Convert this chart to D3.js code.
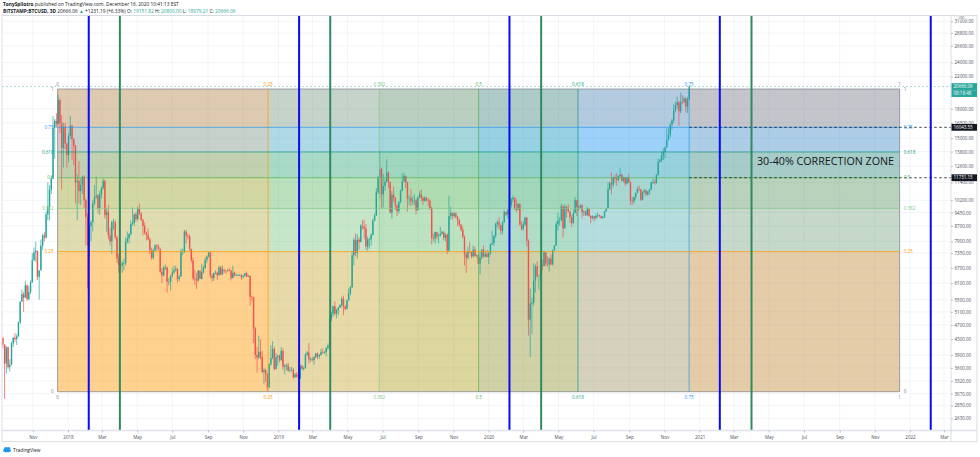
<!DOCTYPE html>
<html>
<head>
<meta charset="utf-8">
<script src="https://cdnjs.cloudflare.com/ajax/libs/d3/7.8.5/d3.min.js"></script>
<style>
html, body { margin: 0; padding: 0; background: #fff; }
svg { display: block; font-family: "Open Sans", "Noto Sans", sans-serif; }
</style>
</head>
<body>
<div id="chart"></div>
<script>
// BITSTAMP:BTCUSD 3D candles, first bar opens 2017-09-10, open of each bar = previous close
const firstCandle = "2017-09-10";
const candleDays = 3;
const firstOpen = 4330;

const closes = [
 4160,3700,4090,3620,3670,4200,4340,4310,4380,4780,
 5430,5690,5570,6010,5520,5770,6130,7030,7390,7450,
 6340,6600,7700,8200,8090,9330,9810,10890,11670,16000,
 16700,16400,19000,16500,14100,16100,14500,13500,15200,16200,
 14900,14300,11400,11500,10800,11200,11800,10200,9200,7700,
 8700,8900,10000,10400,10500,9700,10600,11000,11500,9300,
 9500,8200,7900,8900,8900,8100,7100,6800,6800,6900,
 6900,7900,8050,8270,8800,8860,9350,9070,9700,9370,
 9020,8690,8340,8240,8000,7470,7130,7490,7710,7650,
 7530,6550,6400,6710,6720,6150,6150,6390,6510,6600,
 6660,6250,6350,7380,7400,8400,8180,8170,7530,7030,
 6280,6240,6190,6580,6260,6520,6700,7040,7190,7370,
 6400,6290,6490,6500,6400,6720,6430,6640,6590,6570,
 6600,6590,6290,6500,6390,6410,6410,6410,6320,6370,
 6480,6350,6370,5600,5580,4600,3900,3840,3980,3850,
 3510,3550,3470,3190,3680,3830,4050,3580,3850,3880,
 3780,4000,3630,3660,3660,3540,3550,3560,3400,3460,
 3410,3370,3650,3580,3600,3910,3960,3800,3800,3780,
 3850,3940,3870,3900,3970,3960,3970,4070,4130,4880,
 5040,5280,5040,5160,5240,5320,5530,5270,5200,5480,
 5720,5940,7250,7980,7350,7980,7880,8700,8650,8560,
 7650,8000,8000,8230,8980,9270,10700,11750,12400,10580,
 11150,11450,12100,11400,9450,10550,10350,9880,9530,10090,
 10820,11460,11860,11400,10310,10330,10130,10140,10190,9590,
 10390,10580,10340,10160,10360,10190,10170,9700,8060,8040,
 8370,8150,8190,8270,8360,8080,8240,7460,9250,9430,
 9250,9400,9200,9040,8770,8490,8120,7290,7140,7420,
 7400,7200,7500,7220,7250,6880,7150,7510,7200,7300,
 7170,7340,7760,7820,8180,8820,8900,8730,8430,8900,
 9500,9330,9610,9900,10270,10360,9700,9610,9970,8780,
 8540,8760,9150,7930,4860,5370,5400,6190,6770,6370,
 6390,6800,6780,7370,6890,6850,7100,6850,7490,7700,
 8790,8980,9030,9810,8570,9790,9680,9510,9180,8840,
 9430,10200,9790,9750,9880,9470,9520,9300,9690,9250,
 9120,9230,9130,9250,9290,9240,9130,9210,9530,9710,
 10920,11350,11230,11770,11680,11570,11860,11970,11520,11760,
 11320,11700,11400,10170,10130,10400,10680,10940,10920,10240,
 10730,10840,10570,10790,10920,11380,11430,11360,11920,12930,
 13070,13460,13750,14150,14840,15310,16330,16730,17820,18420,
 18740,17720,18790,18700,19180,18250,19150,20666.06
];

const highs = [
 4380,4170,4120,4110,3800,4240,4370,4470,4440,4800,
 5450,5860,5780,6190,6050,5990,6200,7340,7600,7880,
 7450,6600,7990,8290,8370,9520,11400,11200,11850,17200,
 16900,17500,19666,19200,17300,16500,16500,14600,15500,17250,
 16300,15000,14400,12000,13000,11700,11900,11900,10300,9400,
 8750,9000,10200,11200,11800,10600,10800,11100,11700,11600,
 9700,9900,8600,9000,9100,9000,8200,7300,7500,7000,
 7100,8100,8400,8300,9000,9750,9400,9500,9800,9990,
 9470,9100,8880,8400,8580,8100,7600,7550,7760,7750,
 7750,7600,6700,6800,6840,6750,6300,6400,6690,6800,
 6800,6680,6400,7550,7550,8480,8500,8300,8250,7550,
 7150,6620,6500,6620,6600,6880,6800,7150,7250,7400,
 7420,6470,6520,6600,6550,6800,6780,6800,6650,6610,
 6650,6700,6620,6800,6550,6460,6460,6450,6440,6420,
 6500,6550,6420,6400,5640,5600,4650,4100,4400,4300,
 4000,3600,3580,3490,3700,4150,4250,4100,3950,3900,
 3920,4100,4060,3680,3700,3720,3620,3620,3600,3490,
 3510,3460,3680,3660,3630,3950,4000,4200,3840,3850,
 3880,3950,3960,3920,4050,4060,4000,4090,4190,5000,
 5100,5300,5450,5200,5260,5350,5600,5640,5320,5500,
 5900,5980,7450,8100,8300,8250,8100,8800,9000,9050,
 8800,8150,8060,8300,9100,9400,11000,11850,13880,12500,
 12000,11650,13150,12200,11450,10800,11100,10400,9900,10150,
 10900,12050,12100,11900,11450,10500,10950,10450,10600,10300,
 10450,10800,10900,10450,10450,10400,10350,10250,9800,8300,
 8400,8380,8300,8650,8450,8420,8300,8300,10500,9800,
 9450,9500,9450,9250,9050,8800,8650,8200,7400,7650,
 7850,7420,7700,7650,7300,7280,7400,7520,7700,7420,
 7500,7400,7800,8450,8200,8880,9000,9180,8770,8980,
 9570,9480,9640,9950,10350,10500,10380,10250,10020,10000,
 8950,8950,9200,9200,8000,5900,5580,6900,6850,6980,
 6400,7100,7050,7460,7400,7200,7150,7300,7500,7720,
 8950,9450,9200,10000,9900,9950,9850,9950,9560,9310,
 9620,10400,10230,9850,9950,9950,9600,9550,9780,9700,
 9300,9300,9250,9380,9450,9330,9280,9230,9550,9720,
 11400,11450,12100,11800,11950,12100,11900,12480,12000,11800,
 11770,11800,12050,11450,10400,10450,10700,11100,11180,10950,
 10800,10950,10900,10800,10950,11450,11700,11620,12000,13200,
 13200,13800,14100,14250,15950,15950,16500,16900,18500,18800,
 19400,18900,19900,19600,19420,19300,19400,20800
];

const lows = [
 4070,2970,3480,3580,3520,3660,4100,4240,4150,4370,
 4730,5450,5100,5560,5450,5480,5700,6100,6990,6960,
 6220,5500,6600,7500,7900,8040,9000,9000,10600,11650,
 13200,16000,16300,15500,10900,12500,14000,12500,12900,14900,
 13100,12700,10000,9000,10000,9900,10600,9700,7700,5900,
 7200,7900,8400,9900,10300,9400,9300,10300,10900,9100,
 8400,8000,7700,7300,8500,8000,6900,6500,6700,6500,
 6600,6800,7800,7800,8200,8700,8700,8900,9000,9300,
 8950,8200,8250,7950,7950,7300,7050,7070,7400,7450,
 7500,6500,6100,6350,6620,5750,6000,5830,6300,6450,
 6550,6120,6170,6340,7250,7350,7800,8000,7450,6930,
 6200,6020,5880,6150,6250,6240,6460,6650,6900,7140,
 6300,6150,6180,6440,6220,6380,6400,6420,6500,6460,
 6550,6560,6200,6280,6350,6370,6370,6380,6220,6300,
 6350,6330,6330,5300,5450,4200,3800,3500,3800,3800,
 3480,3250,3300,3122,3180,3650,3800,3550,3560,3650,
 3730,3760,3560,3460,3540,3520,3500,3530,3360,3380,
 3390,3350,3360,3560,3540,3580,3880,3700,3740,3750,
 3680,3830,3800,3810,3890,3930,3930,3870,4030,4080,
 4800,4950,4980,4900,5000,5230,5240,5000,5150,5180,
 5450,5650,5920,6800,7200,7100,7500,7850,8500,8000,
 7500,7450,7550,7700,8200,8950,9250,10600,10300,9700,
 9750,10800,11400,11000,9400,9100,10100,9600,9250,9400,
 10000,10800,11400,11000,9500,9900,9850,9900,9900,9350,
 9550,10350,10150,9900,10100,10150,9850,9600,7750,7900,
 7800,8000,7800,8150,8250,7950,7900,7300,7400,9050,
 9050,9150,9100,8700,8650,8400,8050,6800,6500,7050,
 7350,7100,7150,7180,7130,6850,6430,7070,7150,7150,
 7150,6860,7270,7730,7680,8070,8600,8500,8250,8250,
 8880,9250,9120,9550,9740,10100,9600,9470,9580,8700,
 8450,8450,8700,7650,4400,3850,4450,5300,5750,6300,
 5850,6200,6600,6770,6770,6750,6550,6800,6800,7450,
 7700,8450,8700,8950,8100,8550,9150,9450,8850,8650,
 8850,9400,9250,9550,9650,9100,9250,9250,9250,9200,
 8850,9050,8950,9050,9150,9170,9100,9100,9130,9500,
 9700,10850,10600,11050,11350,11150,11450,11700,11450,11400,
 11150,11250,11350,9900,9900,10000,10220,10650,10800,10150,
 10200,10650,10450,10500,10550,10850,11300,11250,11300,11900,
 12900,12950,13100,13250,14200,14800,15100,15800,16500,17600,
 18000,16200,17500,18500,18900,17600,17550,18979.21
];

// right price scale labels
const priceTicks = [31000,28800,26600,24000,22000,18000,16500,15000,13800,12600,11400,10200,
  9450,8700,7900,7350,6700,6100,5500,5100,4700,4300,3900,3600,3320,3070,2850,2630];

// Gann box drawing
const gannLevels = [0, 0.25, 0.382, 0.5, 0.618, 0.75, 1];
const gannLabels = ["0", "0.25", "0.382", "0.5", "0.618", "0.75", "1"];
const gannColors = ["#787b86", "#ff9800", "#81c784", "#4caf50", "#089981", "#2196f3", "#787b86"];
const gannStart = "2017-12-14";
const gannEnd = "2021-12-14";
const gannLow = 3105.95;
const gannHigh = 20355.95;

// yearly vertical lines
const blueLineDates = ["2018-02-06", "2019-02-06", "2020-02-06", "2021-02-05", "2022-02-06"];
const greenLineDates = ["2018-04-01", "2019-04-01", "2020-04-01", "2021-04-01"];

// horizontal rays with price labels
const rayStart = "2020-12-14";
const rayPrices = [16043.55, 11731.15];
const lastPrice = 20666.06;
const countdown = "08:18:48";

const W = 980, H = 457;
const plot = {left: 2, right: 951, top: 15.5, bottom: 430.5};
const upColor = "#26a69a", downColor = "#ef5350";

const svg = d3.select("#chart").append("svg").attr("width", W).attr("height", H);

svg.append("defs").append("clipPath").attr("id", "plotClip")
  .append("rect")
  .attr("x", plot.left).attr("y", plot.top)
  .attr("width", plot.right - plot.left).attr("height", plot.bottom - plot.top);

const x = d3.scaleUtc().domain([new Date("2018-01-01"), new Date("2022-01-01")]).range([68, 910]);
const y = d3.scaleLog().domain([gannLow, gannHigh]).range([391.7, 89]);

const timeTicks = d3.utcMonth.every(2).range(new Date("2017-11-01"), new Date("2022-03-02"));

// grid
const grid = svg.append("g").attr("clip-path", "url(#plotClip)");
grid.selectAll(".vgrid").data(timeTicks).join("line")
  .attr("x1", d => x(d)).attr("x2", d => x(d))
  .attr("y1", plot.top).attr("y2", plot.bottom)
  .attr("stroke", "#eef1f7").attr("stroke-width", 0.8);
grid.selectAll(".hgrid").data(priceTicks).join("line")
  .attr("x1", plot.left).attr("x2", plot.right)
  .attr("y1", d => y(d)).attr("y2", d => y(d))
  .attr("stroke", "#eef1f7").attr("stroke-width", 0.8);

// Gann box fills
const gx0 = x(new Date(gannStart)), gx1 = x(new Date(gannEnd));
const gX = l => gx0 + l * (gx1 - gx0);
const gY = l => y(gannLow + l * (gannHigh - gannLow));
const gannBands = gannLevels.slice(1).map((l, i) => ({from: gannLevels[i], to: l, color: gannColors[i + 1]}));

const box = svg.append("g").attr("clip-path", "url(#plotClip)");
box.selectAll(".col").data(gannBands).join("rect")
  .attr("x", d => gX(d.from)).attr("width", d => gX(d.to) - gX(d.from))
  .attr("y", gY(1)).attr("height", gY(0) - gY(1))
  .attr("fill", d => d.color).attr("fill-opacity", 0.25);
box.selectAll(".row").data(gannBands).join("rect")
  .attr("x", gX(0)).attr("width", gX(1) - gX(0))
  .attr("y", d => gY(d.to)).attr("height", d => gY(d.from) - gY(d.to))
  .attr("fill", d => d.color).attr("fill-opacity", 0.25);

// candles
const candles = closes.map((c, i) => ({
  date: d3.utcDay.offset(new Date(firstCandle), i * candleDays),
  open: i === 0 ? firstOpen : closes[i - 1],
  high: highs[i], low: lows[i], close: c
}));

const candleG = svg.append("g").attr("clip-path", "url(#plotClip)");
const bar = candleG.selectAll(".candle").data(candles).join("g").attr("class", "candle");
bar.append("line")
  .attr("x1", d => x(d.date)).attr("x2", d => x(d.date))
  .attr("y1", d => y(d.high)).attr("y2", d => y(d.low))
  .attr("stroke", d => d.close >= d.open ? upColor : downColor)
  .attr("stroke-width", 0.7);
bar.append("rect")
  .attr("x", d => x(d.date) - 0.7).attr("width", 1.4)
  .attr("y", d => y(Math.max(d.open, d.close)))
  .attr("height", d => Math.max(0.6, Math.abs(y(d.open) - y(d.close))))
  .attr("fill", d => d.close >= d.open ? upColor : downColor);

// Gann level lines + box border
const lines = svg.append("g").attr("clip-path", "url(#plotClip)");
lines.selectAll(".vlev").data(gannLevels).join("line")
  .attr("x1", d => gX(d)).attr("x2", d => gX(d))
  .attr("y1", gY(1)).attr("y2", gY(0))
  .attr("stroke", (d, i) => gannColors[i]).attr("stroke-width", 0.8).attr("stroke-opacity", 0.85);
lines.selectAll(".hlev").data(gannLevels).join("line")
  .attr("x1", gX(0)).attr("x2", gX(1))
  .attr("y1", d => gY(d)).attr("y2", d => gY(d))
  .attr("stroke", (d, i) => gannColors[i]).attr("stroke-width", 0.8).attr("stroke-opacity", 0.85);

// last price line
lines.append("line")
  .attr("x1", plot.left).attr("x2", plot.right)
  .attr("y1", y(lastPrice)).attr("y2", y(lastPrice))
  .attr("stroke", upColor).attr("stroke-opacity", 0.5)
  .attr("stroke-width", 0.8).attr("stroke-dasharray", "2,2");

// horizontal rays
lines.selectAll(".ray").data(rayPrices).join("line")
  .attr("x1", x(new Date(rayStart))).attr("x2", plot.right)
  .attr("y1", d => y(d)).attr("y2", d => y(d))
  .attr("stroke", "#131722").attr("stroke-width", 0.8).attr("stroke-dasharray", "2.5,2.5");

// yearly vertical lines
lines.selectAll(".blue").data(blueLineDates).join("line")
  .attr("x1", d => x(new Date(d))).attr("x2", d => x(new Date(d)))
  .attr("y1", plot.top).attr("y2", plot.bottom)
  .attr("stroke", "#0a0af5").attr("stroke-width", 2);
lines.selectAll(".green").data(greenLineDates).join("line")
  .attr("x1", d => x(new Date(d))).attr("x2", d => x(new Date(d)))
  .attr("y1", plot.top).attr("y2", plot.bottom)
  .attr("stroke", "#2f8a5f").attr("stroke-width", 2);

// Gann labels
const lab = svg.append("g").attr("font-size", 4.6);
gannLevels.forEach((l, i) => {
  lab.append("text").attr("x", gX(l)).attr("y", gY(1) - 3)
    .attr("text-anchor", "middle").attr("fill", gannColors[i]).text(gannLabels[i]);
  lab.append("text").attr("x", gX(l)).attr("y", gY(0) + 7)
    .attr("text-anchor", "middle").attr("fill", gannColors[i]).text(gannLabels[i]);
  lab.append("text").attr("x", gX(0) - 4).attr("y", gY(l) + 1.6)
    .attr("text-anchor", "end").attr("fill", gannColors[i]).text(gannLabels[i]);
  lab.append("text").attr("x", gX(1) + 4).attr("y", gY(l) + 1.6)
    .attr("text-anchor", "start").attr("fill", gannColors[i]).text(gannLabels[i]);
});

// annotation
svg.append("text")
  .attr("x", 757).attr("y", y(13000) + 4)
  .attr("font-size", 11.5).attr("font-weight", 500).attr("fill", "#131722")
  .attr("textLength", 137).attr("lengthAdjust", "spacingAndGlyphs")
  .text("30-40% CORRECTION ZONE");

// frame
const frame = svg.append("g").attr("fill", "none").attr("stroke", "#d1d4dc");
frame.append("rect").attr("x", 2).attr("y", plot.top).attr("width", 975).attr("height", 441.7 - plot.top).attr("stroke-width", 0.8);
frame.append("line").attr("x1", 2).attr("x2", 977).attr("y1", plot.bottom).attr("y2", plot.bottom).attr("stroke-width", 1.6).attr("stroke", "#e0e3eb");
frame.append("line").attr("x1", plot.right).attr("x2", plot.right).attr("y1", plot.top).attr("y2", 441.7).attr("stroke-width", 0.8);

// price axis
const yAxis = svg.append("g").attr("transform", `translate(${plot.right},0)`)
  .call(d3.axisRight(y).tickValues(priceTicks).tickFormat(d => d.toFixed(2)).tickSize(2).tickPadding(1.5));
yAxis.select(".domain").remove();
yAxis.selectAll("line").attr("stroke", "#9598a1").attr("stroke-width", 0.6);
yAxis.selectAll("text").attr("font-size", 4.5).attr("fill", "#4a4e5a").attr("font-family", "'Open Sans', sans-serif");

// time axis
const xAxis = svg.append("g").attr("transform", `translate(0,${plot.bottom})`)
  .call(d3.axisBottom(x).tickValues(timeTicks)
    .tickFormat(d => d.getUTCMonth() === 0 ? d3.utcFormat("%Y")(d) : d3.utcFormat("%b")(d))
    .tickSize(2).tickPadding(3));
xAxis.select(".domain").remove();
xAxis.selectAll("line").attr("stroke", "#9598a1").attr("stroke-width", 0.6);
xAxis.selectAll("text").attr("font-size", 4.5).attr("fill", "#4a4e5a").attr("font-family", "'Open Sans', sans-serif");

// price labels on axis
const tag = (price, fill, label, dy) => {
  const cy = y(price) + dy;
  svg.append("rect").attr("x", plot.right + 0.5).attr("y", cy - 3.4).attr("width", 25.5).attr("height", 6.8).attr("fill", fill);
  svg.append("text").attr("x", plot.right + 2.5).attr("y", cy + 1.6)
    .attr("font-size", 4.5).attr("fill", "#fff").text(label);
};
tag(lastPrice, upColor, lastPrice.toFixed(2), 0);
tag(lastPrice, upColor, countdown, 7);
rayPrices.forEach(p => tag(p, "#131722", p.toFixed(2), 0));

// currency box (kept above the top tick label)
svg.append("rect").attr("x", 957).attr("y", 15.6).attr("width", 9).attr("height", 3.8)
  .attr("rx", 0.8).attr("fill", "#fff").attr("stroke", "#d1d4dc").attr("stroke-width", 0.4);
svg.append("text").attr("x", 961.5).attr("y", 18.5).attr("text-anchor", "middle")
  .attr("font-size", 2.9).attr("fill", "#4a4e5a").text("USD");

// header
const h1 = svg.append("text").attr("x", 3).attr("y", 6).attr("font-size", 4.8).attr("fill", "#131722");
h1.append("tspan").attr("font-weight", "bold").text("TonySpilotro");
h1.append("tspan").text(" published on TradingView.com, December 16, 2020 10:41:13 EST");

const h2 = svg.append("text").attr("x", 3).attr("y", 12.6).attr("font-size", 4.8).attr("fill", "#131722");
h2.append("tspan").attr("font-weight", "bold").text("BITSTAMP:BTCUSD, 3D");
h2.append("tspan").text("  20666.06 ");
h2.append("tspan").attr("fill", upColor).text("▲");
h2.append("tspan").text(" +1231.19 (+6.33%) O: ");
h2.append("tspan").attr("fill", upColor).text("19151.82");
h2.append("tspan").text(" H: ");
h2.append("tspan").attr("fill", upColor).text("20800.00");
h2.append("tspan").text(" L: ");
h2.append("tspan").attr("fill", upColor).text("18979.21");
h2.append("tspan").text(" C: ");
h2.append("tspan").attr("fill", upColor).text("20666.06");

// footer logo
const logo = svg.append("g").attr("fill", "#2196f3");
logo.append("ellipse").attr("cx", 7).attr("cy", 450.5).attr("rx", 4).attr("ry", 1.8);
logo.append("circle").attr("cx", 6).attr("cy", 449).attr("r", 2);
logo.append("circle").attr("cx", 8.6).attr("cy", 448.6).attr("r", 1.7);
svg.append("text").attr("x", 13).attr("y", 451.5).attr("font-size", 4.8).attr("fill", "#131722").text("TradingView");
</script>
</body>
</html>
